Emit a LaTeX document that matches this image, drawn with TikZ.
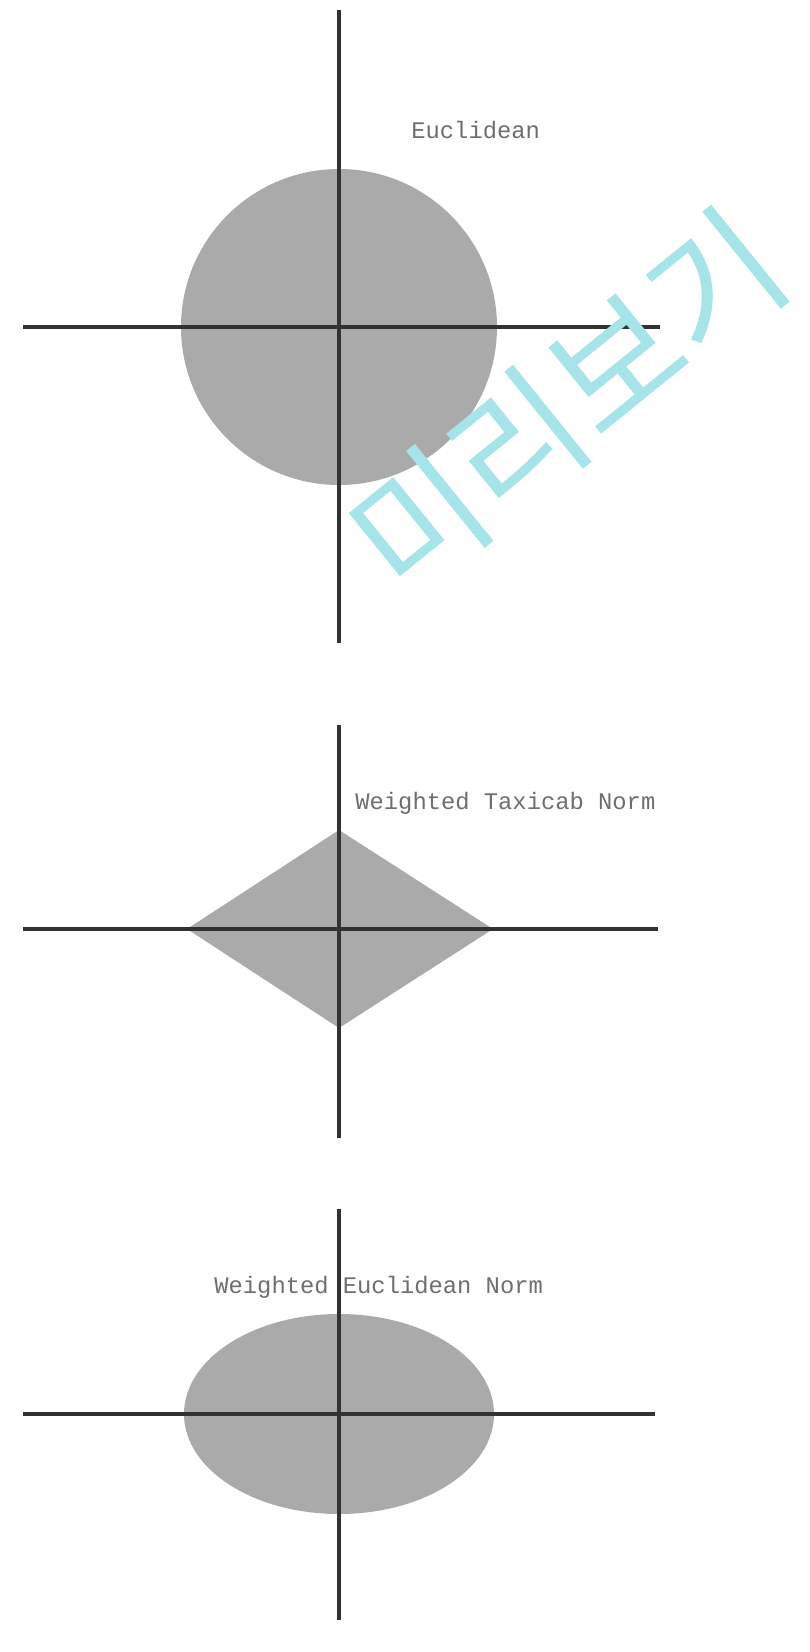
\documentclass[tikz,border=0pt]{standalone}
\usepackage{fontspec}
\newfontfamily\labelfont{Liberation Mono}
\newfontfamily\cjk{Noto Sans CJK KR}
\usetikzlibrary{positioning}

\definecolor{axisgray}{RGB}{50,50,50}
\definecolor{blobgray}{RGB}{170,170,170}
\definecolor{textgray}{RGB}{110,110,110}
\definecolor{markcyan}{RGB}{165,228,232}

\begin{document}
\begin{tikzpicture}[
    x=0.5pt, y=-0.5pt,
    axis/.style={draw=axisgray, line width=2pt},
    blob/.style={fill=blobgray},
    normlabel/.style={font=\labelfont\fontsize{11.9}{13}\selectfont, text=textgray, inner sep=0pt, anchor=west}
]
    \useasboundingbox (0,0) rectangle (809,1652);

    % Euclidean
    \fill[blob] (339,327) circle [radius=158];
    \draw[axis] (339,10) -- (339,643);
    \draw[axis] (23,327) -- (660,327);
    \node[normlabel] (lbl-euclid) at (411,130) {Euclidean};

    % Weighted taxicab norm
    \fill[blob] (339,830) -- (493,929) -- (339,1028) -- (187,929) -- cycle;
    \draw[axis] (339,725) -- (339,1138);
    \draw[axis] (23,929) -- (658,929);
    \node[normlabel] (lbl-taxicab) at (355,803) {Weighted Taxicab Norm};

    % Weighted euclidean norm
    \fill[blob] (339,1414) ellipse [x radius=155, y radius=100];
    \draw[axis] (339,1209) -- (339,1620);
    \draw[axis] (23,1414) -- (655,1414);
    \node[normlabel] (lbl-weuclid) at (214,1287) {Weighted Euclidean Norm};

    % Watermark
    \node[font=\cjk\fontsize{69}{69}\selectfont, text=markcyan, rotate=39] (mark) at (567,402) {미리보기};

\end{tikzpicture}
\end{document}
